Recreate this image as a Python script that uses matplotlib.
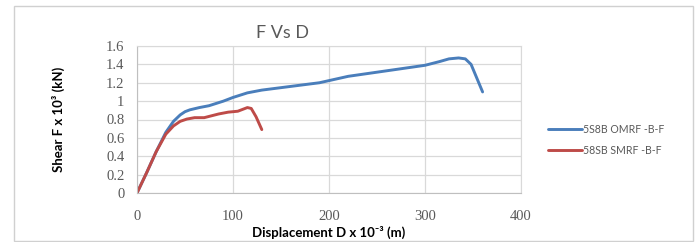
import matplotlib
matplotlib.use("Agg")
import matplotlib.pyplot as plt
from matplotlib.patches import Rectangle
from matplotlib.ticker import FuncFormatter

plt.rcParams["font.family"] = "serif"
plt.rcParams["font.serif"] = ["Liberation Serif", "DejaVu Serif"]

# values
omrf_x = [0, 10, 20, 30, 38, 45, 50, 55, 65, 75, 90, 100, 115, 130, 160, 190, 220, 260, 300, 315, 325, 335, 342, 348, 354, 360]
omrf_y = [0, 0.22, 0.45, 0.66, 0.78, 0.85, 0.885, 0.905, 0.93, 0.95, 1.0, 1.04, 1.09, 1.12, 1.16, 1.20, 1.27, 1.33, 1.39, 1.43, 1.46, 1.47, 1.46, 1.40, 1.25, 1.10]
smrf_x = [0, 10, 20, 30, 38, 45, 52, 60, 70, 85, 95, 105, 110, 115, 119, 124, 130]
smrf_y = [0, 0.22, 0.45, 0.64, 0.73, 0.78, 0.805, 0.82, 0.82, 0.86, 0.88, 0.89, 0.91, 0.93, 0.92, 0.83, 0.69]
labels = ["5S8B OMRF -B-F", "58SB SMRF -B-F"]

grid_c = "#d9d9d9"
txt_c = "#595959"

fig = plt.figure(figsize=(6.99, 2.42), dpi=100)
fig.patches.append(Rectangle((14 / 699, 0.005), 679 / 699, 1 - 6 / 242 - 0.005,
                             transform=fig.transFigure, fill=False,
                             edgecolor="#d0d0d0", lw=1))
ax = fig.add_axes([137 / 699, 1 - 193 / 242, 384 / 699, 147 / 242])

ax.plot(omrf_x, omrf_y, color="#4a7ebb", lw=2.1, label=labels[0],
        solid_capstyle="round", solid_joinstyle="round")
ax.plot(smrf_x, smrf_y, color="#be4b48", lw=2.1, label=labels[1],
        solid_capstyle="round", solid_joinstyle="round")

ax.set_xlim(0, 400)
ax.set_ylim(0, 1.6)
ax.set_xticks([0, 100, 200, 300, 400])
ax.set_yticks([0, 0.2, 0.4, 0.6, 0.8, 1.0, 1.2, 1.4, 1.6])
ax.yaxis.set_major_formatter(FuncFormatter(lambda v, p: "%g" % round(v, 1)))
ax.grid(True, color=grid_c, lw=0.9)
ax.set_axisbelow(True)
for s in ax.spines.values():
    s.set_color(grid_c)
ax.spines["left"].set_color("#bfbfbf")
ax.spines["bottom"].set_color("#bfbfbf")
ax.tick_params(length=0, colors=txt_c, labelsize=10.5)
ax.tick_params(axis="x", pad=12)
ax.tick_params(axis="y", pad=9)

ax.set_title("F Vs D", family="Lato", color=txt_c, fontsize=13, pad=6, x=(283 - 137) / 384)
ax.set_xlabel("Displacement D x 10⁻³ (m)", family=["Lato", "DejaVu Sans"],
              fontweight="bold", fontsize=9.5, color="black", va="center")
ax.set_ylabel("Shear F x 10³ (kN)", family=["Lato", "DejaVu Sans"],
              fontweight="bold", fontsize=9.5, color="black", va="center")
ax.xaxis.set_label_coords(0.5, -(232 - 193) / 147)
ax.yaxis.set_label_coords((58 - 137) / 384, 0.5)

fig.legend(loc="center left", bbox_to_anchor=(538 / 699, 1 - 140 / 242),
           frameon=False, prop={"family": "Lato", "size": 7.6},
           handlelength=3.3, handletextpad=0.05, labelspacing=0.95,
           labelcolor=txt_c)

fig.savefig("out.png", dpi=100)
